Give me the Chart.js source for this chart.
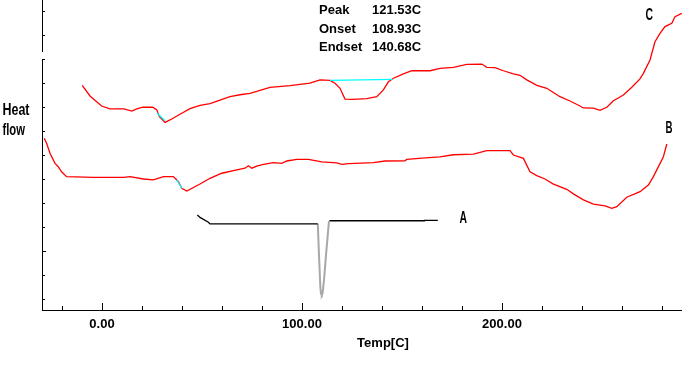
<!DOCTYPE html>
<html>
<head>
<meta charset="utf-8">
<title>DSC</title>
<script src="https://cdn.jsdelivr.net/npm/chart.js@4/dist/chart.umd.min.js"></script>
<style>
  html, body { margin:0; padding:0; background:#fff; }
  #wrap { width:682px; height:373px; position:relative; }
</style>
</head>
<body>
<div id="wrap"><canvas id="dsc"></canvas></div>
<script>
/* DSC thermogram, curves A, B, C. Temperature in C, heat flow in arbitrary units. */
var cTemp = [-9.9,-6,-0.2,4,11,14.9,17.4,20.4,25.4,27.4,28.7,31.5,34,39,44,49,54,59,64,69,74,84,94,104,109,114,116.5,119,121.5,125.5,132.4,137.4,140.7,143.2,145.7,150.7,154.9,164,169,175.7,182.4,189.9,192.4,196.5,200.7,205.7,209,212.4,217.4,222.4,229,234,239,240.7,245.7,249,252.4,255.7,260.7,264.9,269,270.7,274,276.5,279,281.5,284.9,286.5,289.9];
var cFlow = [8.90,8.46,8.04,7.92,7.92,7.83,7.92,7.99,7.99,7.88,7.60,7.36,7.46,7.70,7.93,8.07,8.14,8.29,8.43,8.51,8.57,8.82,8.89,8.99,9.13,9.11,8.99,8.78,8.33,8.32,8.35,8.43,8.71,9.05,9.20,9.38,9.51,9.51,9.61,9.65,9.78,9.79,9.65,9.64,9.51,9.38,9.32,9.13,8.90,8.78,8.43,8.25,8.04,7.96,7.95,7.86,7.99,8.26,8.50,8.82,9.17,9.40,9.96,10.72,11.07,11.35,11.49,11.76,11.90];
var cBaseTemp = [114, 145.2];
var cBaseFlow = [9.11, 9.15];
var cTanTemp = [27.5, 31.5];
var cTanFlow = [7.75, 7.43];

var bTemp = [-28.9,-27.7,-26,-23.5,-21.9,-20.2,-17.7,-4.4,10.7,14,20.7,25.7,30.7,35.7,38.2,39.9,42.4,49,54,59.9,67.4,71.5,73.2,74.9,77.4,80.7,85.7,89.9,92.4,97.4,103.2,109.9,117.4,119.9,123.2,135.7,141.5,151.5,152.4,163.2,169,175.7,185.7,192.4,204,205.7,210.7,214,217.4,221.5,225.7,232.4,235.7,240.7,245.7,251.5,254.9,257.4,262.4,269,273.2,275.7,277.4,280.7,282.4];
var bFlow = [6.70,6.49,6.07,5.65,5.51,5.30,5.10,5.07,5.07,5.10,5.00,4.96,5.10,5.10,4.89,4.61,4.50,4.79,5.03,5.24,5.38,5.45,5.55,5.45,5.54,5.61,5.68,5.65,5.75,5.82,5.82,5.71,5.67,5.61,5.64,5.68,5.75,5.76,5.82,5.89,5.92,6.01,6.04,6.18,6.18,6.00,5.86,5.30,5.14,5.00,4.79,4.57,4.38,4.13,3.95,3.88,3.78,3.85,4.24,4.47,4.75,5.10,5.38,5.93,6.46];
var bTanTemp = [37.4, 39.9];
var bTanFlow = [4.96, 4.61];

var aTemp = [47.7,49,53.2,54,107.9];
var aFlow = [3.50,3.40,3.20,3.13,3.13];
var aPeakTemp = [107.9,108.3,108.8,109.2,109.5,109.9,110.3,111,112,113,113.5];
var aPeakFlow = [3.13,2.25,1.21,0.46,0.21,0.17,0.25,0.79,1.83,2.79,3.25];
var aTailTemp = [113.7,161.2,161.2,167.9];
var aTailFlow = [3.26,3.26,3.28,3.28];

var majorTemps = [0, 100, 200, 300];
var minorTemps = [-20, 20, 40, 60, 80, 120, 140, 160, 180, 220, 240, 260, 280];
var flowTicks = [0,1,2,3,4,5,6,7,8,9,10,11,12];
var peakInfo = [['Peak','121.53C'],['Onset','108.93C'],['Endset','140.68C']];

function pts(t, f){ return t.map(function(v, i){ return {x:v, y:f[i]}; }); }

function squashed(ctx, text, x, base, width){
  ctx.save();
  ctx.font = 'bold 17px "Liberation Sans", Arial, sans-serif';
  var w = ctx.measureText(text).width;
  ctx.translate(x, base);
  ctx.scale(width / w, 1);
  ctx.textAlign = 'left';
  ctx.textBaseline = 'alphabetic';
  ctx.fillText(text, 0, 0);
  ctx.restore();
}

var dscAxes = {
  id:'dscAxes',
  afterDatasetsDraw:function(chart){
    var ctx = chart.ctx, xs = chart.scales.x, ys = chart.scales.y, a = chart.chartArea;
    ctx.save();
    ctx.strokeStyle = '#000'; ctx.fillStyle = '#000'; ctx.lineWidth = 1;
    ctx.beginPath();
    ctx.moveTo(a.left, a.bottom + 0.5); ctx.lineTo(a.right, a.bottom + 0.5);
    // y axis is broken in two pieces in the original
    ctx.moveTo(a.left + 0.5, a.top); ctx.lineTo(a.left + 0.5, ys.getPixelForValue(10.29));
    ctx.moveTo(a.left + 0.5, ys.getPixelForValue(9.96)); ctx.lineTo(a.left + 0.5, a.bottom);
    majorTemps.forEach(function(t){
      var px = Math.round(xs.getPixelForValue(t)) + 0.5;
      ctx.moveTo(px, a.bottom); ctx.lineTo(px, a.bottom - 7);
    });
    minorTemps.forEach(function(t){
      var px = Math.round(xs.getPixelForValue(t)) + 0.5;
      ctx.moveTo(px, a.bottom); ctx.lineTo(px, a.bottom - 4);
    });
    flowTicks.forEach(function(v){
      var py = Math.round(ys.getPixelForValue(v)) + 0.5;
      ctx.moveTo(a.left, py); ctx.lineTo(a.left + (v === 2 ? 4 : 3), py);
    });
    ctx.stroke();

    ctx.font = 'bold 13px "Liberation Sans", Arial, sans-serif';
    ctx.textAlign = 'center'; ctx.textBaseline = 'alphabetic';
    majorTemps.forEach(function(t){
      ctx.fillText(t.toFixed(2), xs.getPixelForValue(t), 328);
    });
    ctx.fillText('Temp[C]', 383, 346.5);

    ctx.textAlign = 'left';
    peakInfo.forEach(function(row, i){
      var base = 14 + i * 18.7;
      ctx.fillText(row[0], 319, base);
      ctx.fillText(row[1], 372, base);
    });

    squashed(ctx, 'Heat', 2.5, 114.5, 27);
    squashed(ctx, 'flow', 2.5, 135, 22.5);
    squashed(ctx, 'C', 645.5, 20, 7.5);
    squashed(ctx, 'B', 665.5, 132.5, 7);
    squashed(ctx, 'A', 459.5, 222.5, 7.5);
    ctx.restore();
  }
};

function line(data, color, width){
  return {data:data, borderColor:color, borderWidth:width, pointRadius:0, fill:false, tension:0};
}

new Chart(document.getElementById('dsc'), {
  type:'line',
  data:{
    datasets:[
      line(pts(cBaseTemp, cBaseFlow), '#00ffff', 1.3),
      line(pts(cTanTemp, cTanFlow), '#00ffff', 1.3),
      line(pts(bTanTemp, bTanFlow), '#00ffff', 1.3),
      line(pts(cTemp, cFlow), '#ff0000', 1.3),
      line(pts(bTemp, bFlow), '#ff0000', 1.3),
      line(pts(aTemp, aFlow), '#000000', 1.3),
      line(pts(aPeakTemp, aPeakFlow), '#a8a8a8', 2),
      line(pts(aTailTemp, aTailFlow), '#000000', 1.3)
    ]
  },
  options:{
    responsive:true, maintainAspectRatio:false, animation:false,
    layout:{padding:{left:42, right:0, top:0, bottom:63}},
    plugins:{legend:{display:false}, tooltip:{enabled:false}},
    scales:{
      x:{type:'linear', min:-30, max:290, display:false},
      y:{type:'linear', min:-0.458, max:12.458, display:false}
    }
  },
  plugins:[dscAxes]
});
</script>
</body>
</html>
